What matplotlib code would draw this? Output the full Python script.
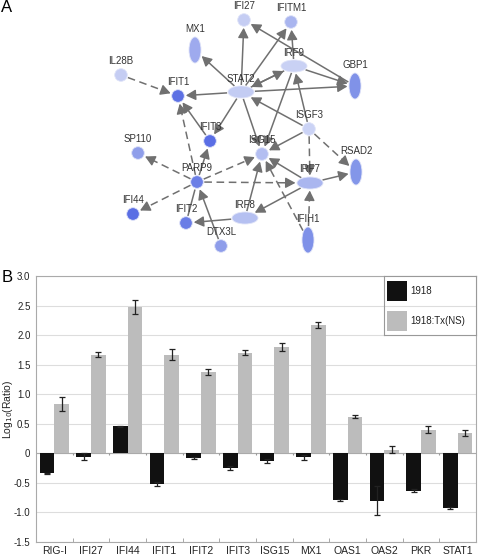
import numpy as np
import matplotlib
matplotlib.use("Agg")
import matplotlib.pyplot as plt
from matplotlib.patches import Ellipse, Rectangle

plt.rcParams['font.family'] = ['Liberation Sans', 'DejaVu Sans']

# ---------------- Panel A data (network) ----------------
node_names = ["IFI27", "IFITM1", "MX1", "IL28B", "IRF9", "GBP1", "IFIT1", "STAT2",
              "ISGF3", "IFIT3", "ISG15", "SP110", "RSAD2", "PARP9", "IRF7", "IFI44",
              "IRF8", "IFIT2", "DTX3L", "IFIH1"]
node_x = [244, 291, 195, 121, 294, 355, 178, 241, 309, 210, 262, 138, 356, 197, 310, 133,
          245, 186, 221, 308]
node_y = [20, 22, 50, 75, 66, 86, 96, 92, 129, 141, 154, 153, 172, 182, 183, 214,
          218, 223, 246, 240]
node_shape = ["c", "c", "v", "c", "h", "v", "c", "h", "c", "c", "c", "c", "v", "c", "h", "c",
              "h", "c", "c", "v"]
node_color = ["#c5cdf3", "#a9b5ef", "#9eaaee", "#c5cdf3", "#c9d1f4", "#8092e8", "#5d71e4",
              "#c3ccf3", "#cbd3f5", "#5a6ee5", "#b3bef1", "#8f9eea", "#8396e9", "#6c7fe6",
              "#aab6ef", "#5a6ee4", "#b5c0f1", "#6a7de6", "#8e9dea", "#7f91e8"]

solid_edges = [("STAT2", "IFI27"), ("STAT2", "IFITM1"), ("STAT2", "MX1"), ("STAT2", "IRF9"),
               ("IRF9", "STAT2"), ("STAT2", "GBP1"), ("STAT2", "IFIT1"), ("STAT2", "IFIT3"),
               ("STAT2", "ISG15"), ("IRF9", "IFITM1"), ("IRF9", "GBP1"), ("IRF9", "ISG15"),
               ("GBP1", "IFI27"), ("ISGF3", "STAT2"), ("ISGF3", "IRF9"), ("ISGF3", "ISG15"),
               ("IFIT3", "IFIT1"), ("PARP9", "IFIT3"), ("DTX3L", "PARP9"), ("IRF8", "IFIT2"),
               ("IRF8", "ISG15"), ("IRF7", "IRF8"), ("IRF7", "ISG15"), ("IRF7", "RSAD2")]
plain_edges = [("IFIT2", "PARP9")]
dashed_edges = [("IL28B", "IFIT1"), ("PARP9", "IFIT1"), ("PARP9", "SP110"), ("PARP9", "IFI44"),
                ("PARP9", "ISG15"), ("PARP9", "IRF7"), ("ISGF3", "IRF7"), ("ISGF3", "RSAD2"),
                ("IFIH1", "IRF7"), ("IFIH1", "ISG15")]

# ---------------- Panel B data (bars) ----------------
genes = ["RIG-I", "IFI27", "IFI44", "IFIT1", "IFIT2", "IFIT3", "ISG15", "MX1",
         "OAS1", "OAS2", "PKR", "STAT1"]
vals_1918 = [-0.34, -0.06, 0.46, -0.52, -0.08, -0.25, -0.13, -0.07, -0.79, -0.80, -0.63, -0.93]
err_1918 = [0.01, 0.06, 0.01, 0.03, 0.01, 0.03, 0.03, 0.05, 0.02, 0.25, 0.03, 0.02]
vals_tx = [0.83, 1.67, 2.48, 1.67, 1.37, 1.70, 1.80, 2.17, 0.62, 0.06, 0.40, 0.35]
err_tx = [0.12, 0.04, 0.12, 0.09, 0.05, 0.04, 0.07, 0.05, 0.03, 0.06, 0.06, 0.05]
series_labels = ["1918", "1918:Tx(NS)"]
series_colors = ["#111111", "#bcbcbc"]
y_ticks = [-1.5, -1.0, -0.5, 0, 0.5, 1.0, 1.5, 2.0, 2.5, 3.0]
y_tick_labels = ["-1.5", "-1.0", "-0.5", "0", "0.5", "1.0", "1.5", "2.0", "2.5", "3.0"]

W, H = 480, 557
fig = plt.figure(figsize=(W / 100, H / 100), dpi=100)

# ================= Panel A =================
axA = fig.add_axes([0, 1 - 270 / H, 1, 270 / H])
axA.set_xlim(0, W)
axA.set_ylim(270, 0)
axA.axis("off")

sizes = {"c": (6.3, 6.3), "h": (13, 6), "v": (6, 13)}
pos = {n: (x, y) for n, x, y in zip(node_names, node_x, node_y)}
rad = {n: sizes[s] for n, s in zip(node_names, node_shape)}


def boundary(n, d, gap):
    rx, ry = rad[n]
    t = 1.0 / np.sqrt((d[0] / rx) ** 2 + (d[1] / ry) ** 2)
    return t + gap


edge_col = "#707070"


def draw_edge(a, b, dashed, arrow=True):
    pa = np.array(pos[a], float)
    pb = np.array(pos[b], float)
    d = pb - pa
    L = np.hypot(*d)
    u = d / L
    s = pa + u * boundary(a, u, 1.0)
    e = pb - u * boundary(b, u, 1.5)
    head = 7
    line_end = e - u * (head - 1) if arrow else e
    axA.plot([s[0], line_end[0]], [s[1], line_end[1]], color=edge_col, lw=1.1,
             linestyle=(0, (5, 3)) if dashed else "-", solid_capstyle="butt", zorder=1)
    if arrow:
        axA.annotate("", xy=e, xytext=e - u * head,
                     arrowprops=dict(arrowstyle="-|>,head_length=0.6,head_width=0.32",
                                     color=edge_col, lw=1.0, shrinkA=0, shrinkB=0), zorder=2)


for a, b in solid_edges:
    draw_edge(a, b, False)
for a, b in plain_edges:
    draw_edge(a, b, False, arrow=False)
for a, b in dashed_edges:
    draw_edge(a, b, True)

for n, x, y, s, c in zip(node_names, node_x, node_y, node_shape, node_color):
    rx, ry = sizes[s]
    axA.add_patch(Ellipse((x, y), 2 * rx, 2 * ry, facecolor=c, edgecolor="#dfe3f8",
                          lw=0.6, zorder=3))
    axA.text(x, y - ry - 7.5, n, ha="center", va="center", fontsize=7, color="#333333",
             zorder=4)

fig.text(7 / W, 1 - 8 / H, "A", fontsize=12, ha="center", va="center")
fig.text(7 / W, 1 - 278 / H, "B", fontsize=12, ha="center", va="center")

# ================= Panel B =================
left, right, top, bottom = 36, 476, 276, 542
axB = fig.add_axes([left / W, 1 - bottom / H, (right - left) / W, (bottom - top) / H])
x = np.arange(len(genes))
bw = 0.4
axB.bar(x - bw / 2, vals_1918, bw, color=series_colors[0], zorder=2)
axB.bar(x + bw / 2, vals_tx, bw, color=series_colors[1], zorder=2)
ekw = dict(fmt="none", ecolor="#222222", elinewidth=0.9, capsize=2.2, capthick=0.9, zorder=3)
axB.errorbar(x - bw / 2, vals_1918, yerr=err_1918, **ekw)
axB.errorbar(x + bw / 2, vals_tx, yerr=err_tx, **ekw)

axB.set_xlim(-0.5, len(genes) - 0.5)
axB.set_ylim(-1.5, 3.0)
axB.set_yticks(y_ticks)
axB.set_yticklabels(y_tick_labels)
axB.yaxis.grid(True, color="#dddddd", lw=0.8, zorder=0)
axB.set_axisbelow(True)
axB.set_xticks(x)
axB.set_xticklabels(genes)
axB.set_xticks(np.arange(len(genes) + 1) - 0.5, minor=True)
axB.tick_params(axis="x", which="major", length=0, labelsize=7.5, pad=3, colors="#222222")
axB.tick_params(axis="x", which="minor", length=3, direction="in", color="#999999")
axB.tick_params(axis="y", length=0, labelsize=7, pad=4, colors="#222222")
for sp in axB.spines.values():
    sp.set_color("#aaaaaa")
    sp.set_linewidth(0.8)
axB.axhline(0, color="#aaaaaa", lw=0.8, zorder=1)
axB.vlines(np.arange(1, len(genes)) - 0.5, -0.03, 0, color="#999999", lw=0.8, zorder=1)
fig.text(8 / W, 1 - ((top + bottom) / 2) / H, "Log$_{10}$(Ratio)", fontsize=7.5,
         rotation=90, ha="center", va="center", color="#222222")

# legend box
lg = fig.add_axes([384 / W, 1 - 335 / H, 92 / W, 59 / H])
lg.set_xlim(0, 92)
lg.set_ylim(59, 0)
lg.set_xticks([])
lg.set_yticks([])
for sp in lg.spines.values():
    sp.set_color("#999999")
    sp.set_linewidth(0.8)
lg.axhline(29.5, color="#dddddd", lw=0.8)
for i, (lab, col) in enumerate(zip(series_labels, series_colors)):
    y0 = 5 + i * 29.5
    lg.add_patch(Rectangle((3, y0), 20, 20, facecolor=col, edgecolor="none"))
    lg.text(26, y0 + 10, lab, fontsize=7, va="center", ha="left", color="#222222")

fig.savefig("out.png", dpi=100)
